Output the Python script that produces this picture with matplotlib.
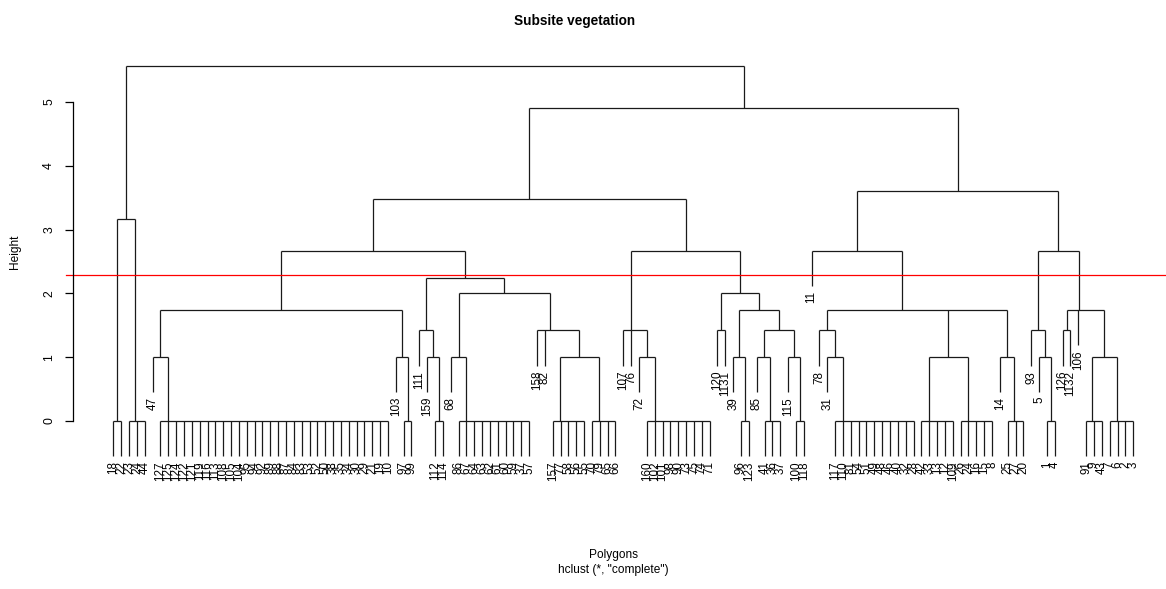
import matplotlib.pyplot as plt

plt.rcParams['font.family'] = ['Liberation Sans', 'DejaVu Sans']

# hclust(d, "complete") of the subsite polygons, written as nested groups:
# (child,child,...):merge_height ; leaves are polygon ids
branch_a = "((18,22):0,(23,24,44):0):3.17"

group_7 = "127,125,124,122,121,119,116,113,108,105,104,95,94,92,89,88,87,84,83,53,52,50,38,35,34,30,29,21,19,10"
group_45 = "86,67,64,63,62,61,60,59,37,57"
group_57 = "157,77,58,56,55"
group_62 = "70,79,65,66"
group_69 = "160,102,101,98,90,73,75,74,71"
group_93 = "117,110,81,54,51,49,48,46,40,32,28"
group_104 = "42,33,13,12,109"
group_109 = "26,24,16,15,8"
group_125 = "91,9,43"
group_128 = "7,6,2,3"

branch_c1 = (f"(((47,({group_7}):0):1.01,(103,(97,99):0):1.01):1.74,"
             f"((111,(159,(112,114):0):1.01):1.42,"
             f"((68,({group_45}):0):1.01,(158,82,(({group_57}):0,({group_62}):0):1.01):1.42):2.0):2.24):2.665")
branch_c2 = (f"((107,76,(72,({group_69}):0):1.01):1.42,"
             f"((120,1131):1.42,((39,(96,123):0):1.01,((85,(41,36,37):0):1.01,(115,(100,118):0):1.01):1.42):1.74):2.0):2.665")
branch_d1 = (f"(11,((78,(31,({group_93}):0):1.01):1.42,(({group_104}):0,({group_109}):0):1.01,"
             f"(14,(25,27,20):0):1.01):1.74):2.665")
branch_d2 = (f"((93,(5,(1,4):0):1.01):1.42,"
             f"((126,1132):1.42,106,(({group_125}):0,({group_128}):0):1.01):1.74):2.665")

tree_text = f"({branch_a},(({branch_c1},{branch_c2}):3.48,({branch_d1},{branch_d2}):3.605):4.906):5.564"

cut_height = 2.29


def parse(s):
    pos = 0

    def node():
        nonlocal pos
        if s[pos] == '(':
            pos += 1
            kids = [node()]
            while s[pos] == ',':
                pos += 1
                kids.append(node())
            pos += 2  # ')' and ':'
            j = pos
            while pos < len(s) and s[pos] not in ',)':
                pos += 1
            return {'kids': kids, 'h': float(s[j:pos])}
        j = pos
        while pos < len(s) and s[pos] not in ',)':
            pos += 1
        return {'label': s[j:pos]}

    return node()


tree = parse(tree_text)
hang = 0.1 * tree['h']

counter = [0]


def place(nd):
    if 'label' in nd:
        counter[0] += 1
        nd['x'] = counter[0]
        return nd['x']
    xs = [place(k) for k in nd['kids']]
    # ties merge like R: (a,(b,(c,...))) -> fold midpoints from the right
    x = xs[-1]
    for v in reversed(xs[:-1]):
        x = (v + x) / 2
    nd['x'] = x
    return x


place(tree)
n = counter[0]

W, H = 1166, 589
fig = plt.figure(figsize=(W / 100, H / 100), dpi=100)
left_px, right_px = 72.6, 1174
top_px, bot_px = 60, 470
ax = fig.add_axes([left_px / W, 1 - bot_px / H, (right_px - left_px) / W, (bot_px - top_px) / H])
x0, x1 = 1 - 0.04 * (n - 1), n + 0.04 * (n - 1)
ax.set_xlim(x0, x1)
ax.set_ylim((421 - bot_px) / 63.8, (421 - top_px) / 63.8)

lc = '#1a1a1a'


def draw(nd):
    h = nd['h']
    ax.plot([nd['kids'][0]['x'], nd['kids'][-1]['x']], [h, h], color=lc, lw=0.9,
            solid_capstyle='butt')
    for k in nd['kids']:
        if 'label' in k:
            low = h - hang
            ax.annotate(k['label'], (k['x'], low), xytext=(0, -3.5), textcoords='offset points',
                        rotation=90, ha='center', va='top', fontsize=8.4, annotation_clip=False)
        else:
            low = k['h']
            draw(k)
        ax.plot([k['x'], k['x']], [low, h], color=lc, lw=0.9, solid_capstyle='butt')


draw(tree)

# cut line, running a little past the axis like the original
px = (x1 - x0) / (right_px - left_px)
ax.plot([x0 - 7 * px, x1], [cut_height, cut_height], color='red', lw=0.9, clip_on=False)

for s in ['top', 'right', 'bottom']:
    ax.spines[s].set_visible(False)
ax.spines['left'].set_bounds(0, 5)
ax.spines['left'].set_linewidth(0.9)
ax.set_xticks([])
ax.set_yticks(range(6))
ax.tick_params(axis='y', length=5.5, width=0.9, pad=7, labelsize=8.8)
for t in ax.get_yticklabels():
    t.set_rotation(90)
    t.set_va('center')

fig.text(575 / W, 1 - 21 / H, 'Subsite vegetation', ha='center', va='center',
         fontsize=9.8, fontweight='bold')
fig.text(613 / W, 1 - 555 / H, 'Polygons', ha='center', va='center', fontsize=8.6)
fig.text(613 / W, 1 - 570 / H, 'hclust (*, "complete")', ha='center', va='center', fontsize=8.6)
fig.text(15 / W, 1 - 252 / H, 'Height', ha='center', va='center', rotation=90, fontsize=8.6)

fig.savefig('out.png', dpi=100)
